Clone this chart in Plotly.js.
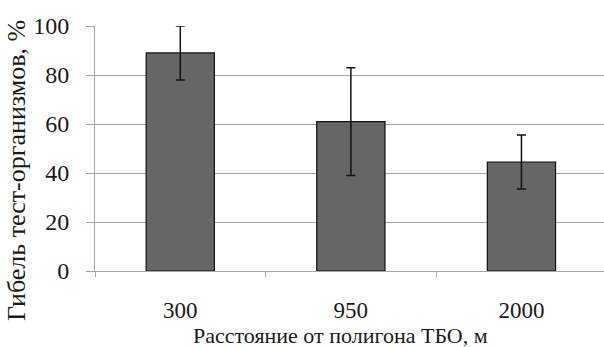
<!DOCTYPE html>
<html>
<head>
<meta charset="utf-8">
<script src="https://cdn.plot.ly/plotly-3.0.1.min.js"></script>
<style>
  html, body { margin: 0; padding: 0; background: #ffffff; }
  #chart { width: 604px; height: 347px; }
</style>
</head>
<body>
<div id="chart"></div>
<script>
// Distance from the landfill (m) and test-organism mortality (%)
const distances = ['300', '950', '2000'];
const mortality = [89, 61, 44.5];
const errorUp = [11, 22, 11];
const errorDown = [11, 22, 11];
const yTicks = [0, 20, 40, 60, 80, 100];
const xTitle = 'Расстояние от полигона ТБО, м';
const yTitle = 'Гибель тест-организмов, %';

const serif = '"Liberation Serif", "Times New Roman", serif';
const gridGray = '#a6a6a6';
const ink = '#1a1a1a';

const trace = {
  type: 'bar',
  x: distances,
  y: mortality,
  width: 0.4,
  marker: { color: '#666666', line: { color: '#111111', width: 1.2 } },
  error_y: {
    type: 'data',
    symmetric: false,
    array: errorUp,
    arrayminus: errorDown,
    color: '#111111',
    thickness: 1.5,
    width: 4.5
  },
  hoverinfo: 'none'
};

const layout = {
  width: 604,
  height: 347,
  margin: { l: 95, r: 0, t: 26, b: 76 },
  paper_bgcolor: '#ffffff',
  plot_bgcolor: '#ffffff',
  showlegend: false,
  font: { family: serif, color: ink, size: 24 },
  xaxis: {
    type: 'category',
    range: [-0.5, 2.484],
    showline: true,
    linecolor: gridGray,
    linewidth: 1,
    ticks: 'outside',
    tickson: 'boundaries',
    ticklen: 5,
    tickcolor: gridGray,
    ticklabelstandoff: 18,
    showgrid: false,
    zeroline: false,
    automargin: false,
    tickfont: { family: serif, size: 23, color: ink }
  },
  yaxis: {
    range: [0, 100],
    tickvals: yTicks,
    ticktext: yTicks.map(String),
    showline: true,
    linecolor: gridGray,
    linewidth: 1,
    ticks: 'outside',
    ticklen: 8,
    tickcolor: gridGray,
    ticklabelstandoff: 12,
    showgrid: true,
    gridcolor: gridGray,
    gridwidth: 1,
    zeroline: false,
    automargin: false,
    tickfont: { family: serif, size: 24, color: ink }
  },
  // Axis titles placed as annotations so they sit where the layout needs them
  annotations: [
    {
      text: xTitle,
      xref: 'paper', yref: 'paper',
      x: 0.4833, y: -0.2653,
      xanchor: 'center', yanchor: 'middle',
      showarrow: false,
      font: { family: serif, size: 22, color: ink }
    },
    {
      text: yTitle,
      xref: 'paper', yref: 'paper',
      x: -0.1552, y: 0.408,
      xanchor: 'center', yanchor: 'middle',
      textangle: -90,
      showarrow: false,
      font: { family: serif, size: 26, color: ink }
    }
  ]
};

Plotly.newPlot('chart', [trace], layout, { staticPlot: true, displayModeBar: false });
</script>
</body>
</html>
